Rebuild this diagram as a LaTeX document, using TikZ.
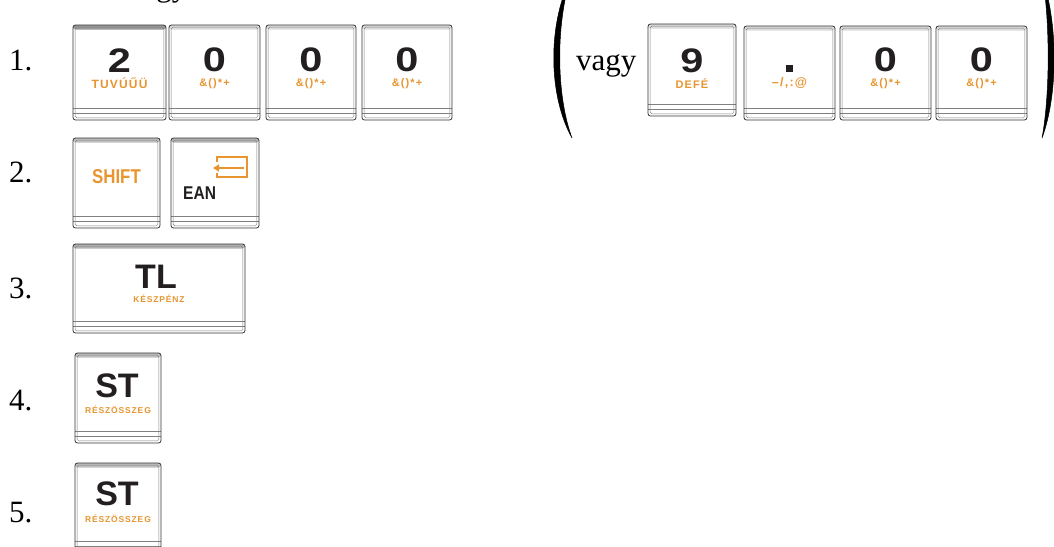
\documentclass[tikz,border=0pt]{standalone}
\usepackage{fontspec}
\setmainfont{Liberation Serif}
\newfontfamily\keyfont{Liberation Sans}
\newfontfamily\subfont[LetterSpace=10]{Liberation Sans}
\usetikzlibrary{arrows.meta,calc}
\definecolor{keyorange}{HTML}{E89530}
\definecolor{keyink}{HTML}{231F20}
\newcommand\wdig[1]{\scalebox{1.22}[1]{#1}}
\newcommand\cond[1]{\scalebox{0.84}[1]{#1}}
\tikzset{
  band/.store in=\bandcolor, band=black!14,
  keycap/.style={draw=black!80, line width=0.8pt, rounded corners=2.5pt, fill=white,
    anchor=north west, inner sep=0pt, outer sep=0pt,
    path picture={
      \fill[\bandcolor] (path picture bounding box.north west) rectangle ([yshift=-4.5pt]path picture bounding box.north east);
      \draw[black!50, line width=0.5pt, rounded corners=1.5pt]
        ([shift={(2.2pt,-2.2pt)}]path picture bounding box.north west) rectangle
        ([shift={(-2.2pt,2.2pt)}]path picture bounding box.south east);
      \draw[black!50, line width=0.5pt] ([yshift=12pt]path picture bounding box.south west) -- ([yshift=12pt]path picture bounding box.south east);
      \draw[black!50, line width=0.5pt] ([yshift=7pt]path picture bounding box.south west) -- ([yshift=7pt]path picture bounding box.south east);
    }},
  mainlbl/.style={anchor=base, inner sep=0pt, text=keyink, font=\keyfont\bfseries\fontsize{34}{34}\selectfont},
  midlbl/.style={anchor=base, inner sep=0pt, text=keyink, font=\keyfont\bfseries\fontsize{18.5}{18.5}\selectfont},
  sublbl/.style={anchor=base, inner sep=0pt, text=keyorange, font=\subfont\bfseries\fontsize{11}{11}\selectfont},
  rowlbl/.style={anchor=base west, inner sep=0pt, text=black, font=\fontsize{31}{31}\selectfont},
  paren/.style={fill=black, draw=black, line width=0.5pt}
}
\begin{document}
\begin{tikzpicture}[x=1pt,y=-1pt]
\useasboundingbox (0,0) rectangle (1054,546);
\clip (0,0) rectangle (1054,546);
\fill[white] (0,0) rectangle (1054,546);

% cut-off text at the top
\node[rowlbl] (toptext) at (127,-4) {vagy};

% row labels
\node[rowlbl] (n1) at (9,70) {1.};
\node[rowlbl] (n2) at (9,182) {2.};
\node[rowlbl] (n3) at (9,298) {3.};
\node[rowlbl] (n4) at (9,410) {4.};
\node[rowlbl] (n5) at (9,522) {5.};

% row 1 keys
\node[keycap, band=black!40, minimum width=93pt, minimum height=95pt] (k1) at (73,25) {};
\node[keycap, minimum width=91pt, minimum height=95pt] (k2) at (169,25) {};
\node[keycap, minimum width=90pt, minimum height=95pt] (k3) at (266,25) {};
\node[keycap, minimum width=90pt, minimum height=95pt] (k4) at (362,25) {};
\node[mainlbl] (k1m) at ($(k1.north)+(0,47)$) {\wdig{2}};
\node[sublbl, font=\subfont\bfseries\fontsize{12}{12}\selectfont] (k1s) at ($(k1.north)+(0,63)$) {TUVÚŰÜ};
\node[mainlbl] (k2m) at ($(k2.north)+(0,46.5)$) {\wdig{0}};
\node[sublbl] (k2s) at ($(k2.north)+(0,61)$) {\&()*+};
\node[mainlbl] (k3m) at ($(k3.north)+(0,46.5)$) {\wdig{0}};
\node[sublbl] (k3s) at ($(k3.north)+(0,61)$) {\&()*+};
\node[mainlbl] (k4m) at ($(k4.north)+(0,46.5)$) {\wdig{0}};
\node[sublbl] (k4s) at ($(k4.north)+(0,61)$) {\&()*+};

% alternative group
\path[paren] (570,-20) .. controls (548,25) and (548,95) .. (572,138)
             .. controls (556,95) and (556,25) .. (570,-20) -- cycle;
\path[paren] (1043,-20) .. controls (1058,25) and (1058,95) .. (1042,138)
             .. controls (1050,95) and (1050,25) .. (1043,-20) -- cycle;
\node[rowlbl] (vagy) at (576,70) {vagy};
\node[keycap, minimum width=88pt, minimum height=92pt] (r1) at (648,24) {};
\node[keycap, minimum width=91pt, minimum height=94pt] (r2) at (744,26) {};
\node[keycap, minimum width=91pt, minimum height=94pt] (r3) at (840,26) {};
\node[keycap, minimum width=91pt, minimum height=94pt] (r4) at (936,26) {};
\node[mainlbl] (r1m) at ($(r1.north)+(0,48)$) {\wdig{9}};
\node[sublbl] (r1s) at ($(r1.north)+(0,64)$) {DEFÉ};
\node[fill=keyink, inner sep=0pt, minimum size=7pt] (r2m) at ($(r2.north)+(0,42.5)$) {};
\node[sublbl, font=\subfont\bfseries\fontsize{12.5}{12.5}\selectfont] (r2s) at ($(r2.north)+(0,60)$) {–/,:@};
\node[mainlbl] (r3m) at ($(r3.north)+(0,45.5)$) {\wdig{0}};
\node[sublbl] (r3s) at ($(r3.north)+(0,60.5)$) {\&()*+};
\node[mainlbl] (r4m) at ($(r4.north)+(0,45.5)$) {\wdig{0}};
\node[sublbl] (r4s) at ($(r4.north)+(0,60.5)$) {\&()*+};

% row 2
\node[keycap, band=black!25, minimum width=87pt, minimum height=90pt] (shift) at (73,138) {};
\node[keycap, band=black!30, minimum width=88pt, minimum height=90pt] (ean) at (171,138) {};
\node[midlbl, text=keyorange, font=\keyfont\bfseries\fontsize{20}{20}\selectfont] (shiftm) at ($(shift.north)+(0,45)$) {\cond{SHIFT}};
\node[midlbl, anchor=base west] (eanm) at ($(ean.north west)+(12,61)$) {\cond{EAN}};
\draw[keyorange, line width=1.3pt]
  ($(ean.north west)+(46,24)$) -- ($(ean.north west)+(46,19)$) -- ($(ean.north west)+(76,19)$)
  -- ($(ean.north west)+(76,39)$) -- ($(ean.north west)+(46,39)$) -- ($(ean.north west)+(46,35)$);
\draw[keyorange, line width=1.8pt, -{Triangle[length=6pt,width=7pt]}]
  ($(ean.north west)+(73,30)$) -- ($(ean.north west)+(42,30)$);

% row 3
\node[keycap, band=black!30, minimum width=172pt, minimum height=89pt] (tl) at (73,244) {};
\node[mainlbl] (tlm) at ($(tl.north)+(-3,44)$) {TL};
\node[sublbl, font=\subfont\bfseries\fontsize{8.5}{8.5}\selectfont] (tls) at ($(tl.north)+(0,58)$) {KÉSZPÉNZ};

% row 4
\node[keycap, band=black!25, minimum width=86pt, minimum height=90pt] (st4) at (75,353) {};
\node[mainlbl] (st4m) at ($(st4.north)+(-1,44)$) {ST};
\node[sublbl, font=\subfont\bfseries\fontsize{8.5}{8.5}\selectfont] (st4s) at ($(st4.north)+(0,60)$) {RÉSZÖSSZEG};

% row 5
\node[keycap, band=black!25, minimum width=86pt, minimum height=90pt] (st5) at (75,463) {};
\node[mainlbl] (st5m) at ($(st5.north)+(-1,42)$) {ST};
\node[sublbl, font=\subfont\bfseries\fontsize{8.5}{8.5}\selectfont] (st5s) at ($(st5.north)+(0,59)$) {RÉSZÖSSZEG};
\end{tikzpicture}
\end{document}
